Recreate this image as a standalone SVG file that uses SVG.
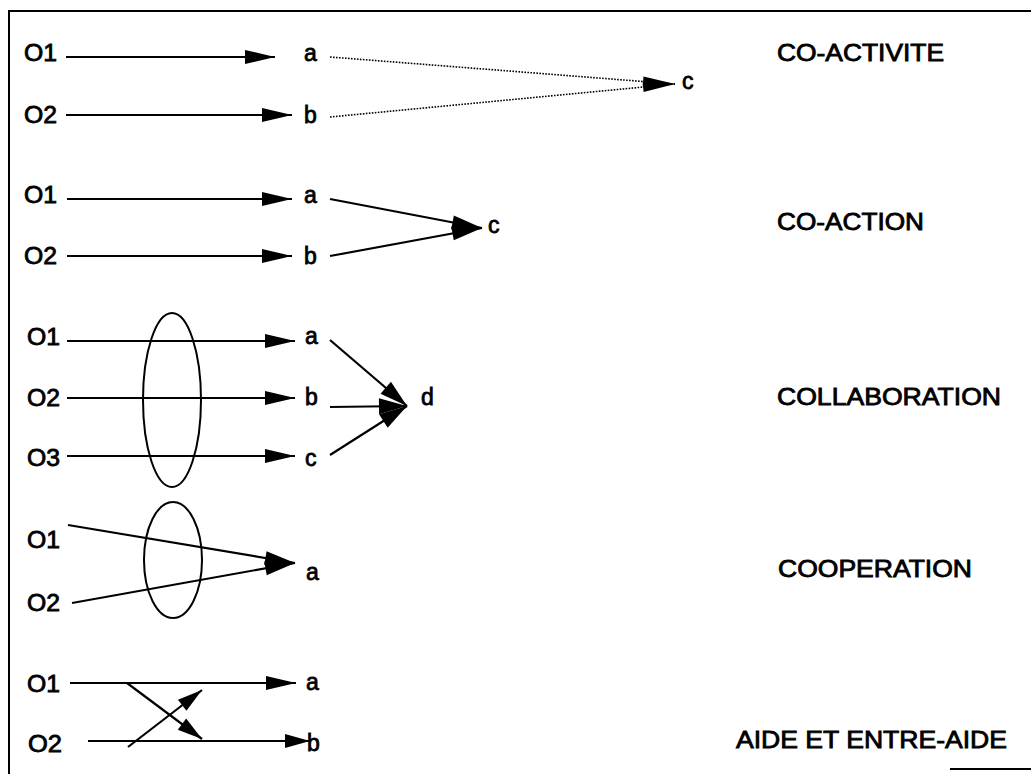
<svg xmlns="http://www.w3.org/2000/svg" width="1031" height="774" viewBox="0 0 1031 774">
<style>
text{font-family:"Liberation Sans",Arial,sans-serif;font-size:23px;fill:#000;stroke:#000;stroke-width:0.8}
.ln{stroke:#000;stroke-width:2.2;fill:none}
.dot{stroke:#000;stroke-width:1.6;fill:none;stroke-dasharray:1.6 1.4}
.ell{stroke:#000;stroke-width:2;fill:none}
.frame{stroke:#000;stroke-width:2;fill:none}
</style>
<defs>
<marker id="ah" markerUnits="userSpaceOnUse" markerWidth="32" markerHeight="16" refX="30" refY="7" orient="auto" overflow="visible"><path d="M0,0 L30,7 L0,14 z" fill="#000"/></marker>
<marker id="ahd" markerUnits="userSpaceOnUse" markerWidth="30" markerHeight="18" refX="28" refY="8" orient="auto" overflow="visible"><path d="M0,0 L28,8 L0,16 z" fill="#000"/></marker>
<marker id="ahs" markerUnits="userSpaceOnUse" markerWidth="26" markerHeight="16" refX="25" refY="7" orient="auto" overflow="visible"><path d="M0,0 L25,7 L0,14 z" fill="#000"/></marker>
<marker id="ahslim" markerUnits="userSpaceOnUse" markerWidth="34" markerHeight="12" refX="32" refY="5" orient="auto" overflow="visible"><path d="M0,0 L32,5 L0,10 z" fill="#000"/></marker>
</defs>
<g id="frame">
<path class="frame" d="M8,11 L1031,11 M9,11 L9,774 M950,769 L1031,769"/>
</g>
<g id="connectors">
<path class="ln" d="M66,57 L275,57" marker-end="url(#ah)"/>
<path class="ln" d="M66,115 L292,115" marker-end="url(#ah)"/>
<path class="dot" d="M330,57 L675,84" marker-end="url(#ahslim)"/>
<path class="dot" d="M330,117 L675,84" marker-end="url(#ahslim)"/>
<path class="ln" d="M67,199 L292,199" marker-end="url(#ah)"/>
<path class="ln" d="M67,256 L292,256" marker-end="url(#ah)"/>
<path class="ln" d="M330,199 L482,228" marker-end="url(#ah)"/>
<path class="ln" d="M330,256 L482,228" marker-end="url(#ah)"/>
<path class="ln" d="M67,341 L295,341" marker-end="url(#ah)"/>
<path class="ln" d="M67,398 L295,398" marker-end="url(#ah)"/>
<path class="ln" d="M67,456 L295,456" marker-end="url(#ah)"/>
<path class="ln" d="M330,340 L407,406" marker-end="url(#ahd)"/>
<path class="ln" d="M330,407 L407,406" marker-end="url(#ahd)"/>
<path class="ln" d="M330,455 L407,406" marker-end="url(#ahd)"/>
<path class="ln" d="M68,525 L295,563" marker-end="url(#ah)"/>
<path class="ln" d="M72,603 L295,563" marker-end="url(#ah)"/>
<path class="ln" d="M70,683 L296,683" marker-end="url(#ah)"/>
<path class="ln" d="M88,741 L310,741" marker-end="url(#ahs)"/>
<path class="ln" d="M127,683 L202,739" marker-end="url(#ahs)"/>
<path class="ln" d="M128,747 L202,690" marker-end="url(#ahs)"/>
</g>
<g id="coactivite">
<text x="24" y="61" textLength="33" lengthAdjust="spacingAndGlyphs">O1</text>
<text x="24" y="123" textLength="33" lengthAdjust="spacingAndGlyphs">O2</text>
<text x="304" y="61">a</text>
<text x="304" y="123">b</text>
<text x="682" y="89">c</text>
<text x="777" y="61" textLength="167" lengthAdjust="spacingAndGlyphs">CO-ACTIVITE</text>
</g>
<g id="coaction">
<text x="24" y="203" textLength="33" lengthAdjust="spacingAndGlyphs">O1</text>
<text x="24" y="264" textLength="33" lengthAdjust="spacingAndGlyphs">O2</text>
<text x="304" y="203">a</text>
<text x="304" y="264">b</text>
<text x="488" y="233">c</text>
<text x="777" y="230" textLength="147" lengthAdjust="spacingAndGlyphs">CO-ACTION</text>
</g>
<g id="collaboration">
<ellipse class="ell" cx="172" cy="400" rx="29" ry="87"/>
<text x="27" y="345" textLength="33" lengthAdjust="spacingAndGlyphs">O1</text>
<text x="27" y="406" textLength="33" lengthAdjust="spacingAndGlyphs">O2</text>
<text x="27" y="466" textLength="33" lengthAdjust="spacingAndGlyphs">O3</text>
<text x="305" y="344">a</text>
<text x="305" y="405">b</text>
<text x="305" y="466">c</text>
<text x="421" y="405">d</text>
<text x="777" y="405" textLength="224" lengthAdjust="spacingAndGlyphs">COLLABORATION</text>
</g>
<g id="cooperation">
<ellipse class="ell" cx="173" cy="560" rx="29" ry="58"/>
<text x="27" y="548" textLength="33" lengthAdjust="spacingAndGlyphs">O1</text>
<text x="27" y="611" textLength="33" lengthAdjust="spacingAndGlyphs">O2</text>
<text x="306" y="580">a</text>
<text x="778" y="577" textLength="194" lengthAdjust="spacingAndGlyphs">COOPERATION</text>
</g>
<g id="aide">
<text x="27" y="692" textLength="33" lengthAdjust="spacingAndGlyphs">O1</text>
<text x="28" y="752" textLength="34" lengthAdjust="spacingAndGlyphs">O2</text>
<text x="306" y="690">a</text>
<text x="307" y="751">b</text>
<text x="736" y="748" textLength="271" lengthAdjust="spacingAndGlyphs">AIDE ET ENTRE-AIDE</text>
</g>
</svg>
